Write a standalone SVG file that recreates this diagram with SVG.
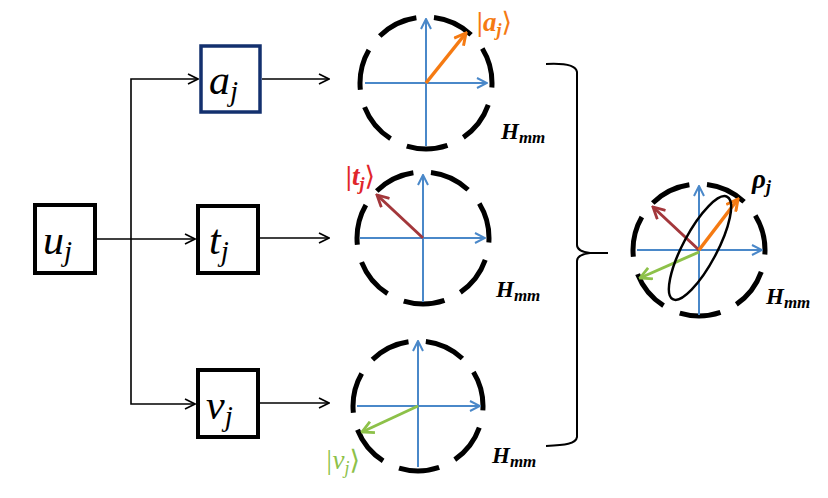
<svg xmlns="http://www.w3.org/2000/svg" width="828" height="498" viewBox="0 0 828 498">
<defs>
<style>
.box{fill:#fff;stroke:#000;stroke-width:4}
.conn{fill:none;stroke:#000;stroke-width:1.6}
.dc{fill:none;stroke:#000;stroke-width:5}
.d66{stroke-dasharray:41.47 17.77;stroke-dashoffset:36.86}
.d65{stroke-dasharray:40.84 17.50;stroke-dashoffset:36.30}
.ax{fill:none;stroke:#4A88C9;stroke-width:2}
.vo{fill:none;stroke:#F57A12;stroke-width:3.5}
.vr{fill:none;stroke:#A3373B;stroke-width:3}
.vg{fill:none;stroke:#8DC149;stroke-width:3}
.m{font-family:"Liberation Serif","DejaVu Serif",serif;font-style:italic}
.lb{font-family:"Liberation Serif","DejaVu Serif",serif;font-style:italic;font-weight:bold}
</style>
<marker id="ab" viewBox="0 0 12 12" refX="11" refY="6" markerWidth="12" markerHeight="12" markerUnits="userSpaceOnUse" orient="auto"><path d="M1,1 L11,6 L1,11" fill="none" stroke="#000" stroke-width="1.6"/></marker>
<marker id="axh" viewBox="0 0 12 12" refX="11" refY="6" markerWidth="12" markerHeight="12" markerUnits="userSpaceOnUse" orient="auto"><path d="M1,1 L11,6 L1,11" fill="none" stroke="#4A88C9" stroke-width="2"/></marker>
<marker id="ho" viewBox="0 0 14 14" refX="12.5" refY="7" markerWidth="14" markerHeight="14" markerUnits="userSpaceOnUse" orient="auto"><path d="M1,1 L12.5,7 L1,13" fill="none" stroke="#F57A12" stroke-width="3"/></marker>
<marker id="hr" viewBox="0 0 14 14" refX="12.5" refY="7" markerWidth="14" markerHeight="14" markerUnits="userSpaceOnUse" orient="auto"><path d="M1,1 L12.5,7 L1,13" fill="none" stroke="#A3373B" stroke-width="2.8"/></marker>
<marker id="hg" viewBox="0 0 14 14" refX="12.5" refY="7" markerWidth="14" markerHeight="14" markerUnits="userSpaceOnUse" orient="auto"><path d="M1,1 L12.5,7 L1,13" fill="none" stroke="#8DC149" stroke-width="2.8"/></marker>
</defs>
<rect width="828" height="498" fill="#fff"/>

<g id="connectors">
<path class="conn" d="M95,239 H195" marker-end="url(#ab)"/>
<path class="conn" d="M131,239 V79 H198" marker-end="url(#ab)"/>
<path class="conn" d="M131,239 V404 H195" marker-end="url(#ab)"/>
<path class="conn" d="M262,79 H329" marker-end="url(#ab)"/>
<path class="conn" d="M260,238 H329" marker-end="url(#ab)"/>
<path class="conn" d="M260,403 H329" marker-end="url(#ab)"/>
<path fill="none" stroke="#000" stroke-width="2" d="M546,64 C565,63 576,65 577,72 L577,245 C577,250 582,252 590,253 L608,253 M590,253 C582,254 577,256 577,261 L577,437 C576,444 565,445 546,446"/>
</g>

<g id="node-u">
<rect class="box" x="35" y="205" width="60" height="68"/>
<text class="m" x="43" y="254" font-size="42">u<tspan font-size="29" dy="7">j</tspan></text>
</g>
<g id="node-a">
<rect class="box" x="201" y="46" width="59" height="66" style="stroke:#13306E;stroke-width:3.5"/>
<text class="m" x="209" y="94" font-size="42">a<tspan font-size="29" dy="7">j</tspan></text>
</g>
<g id="node-t">
<rect class="box" x="198" y="206" width="60" height="67"/>
<text class="m" x="209" y="254" font-size="42">t<tspan font-size="29" dy="7">j</tspan></text>
</g>
<g id="node-v">
<rect class="box" x="198" y="370" width="60" height="67"/>
<text class="m" x="206" y="419" font-size="42">v<tspan font-size="29" dy="7">j</tspan></text>
</g>

<g id="space-a">
<path class="dc d66" d="M492,83 A66,66 0 1 1 360,83 A66,66 0 1 1 492,83"/>
<path class="ax" d="M365,83 H487" marker-end="url(#axh)"/>
<path class="ax" d="M426,146 V19" marker-end="url(#axh)"/>
<path class="vo" d="M426,83 L466,33" marker-end="url(#ho)"/>
<text class="lb" x="477" y="31" font-size="27" fill="#F57A12">|a<tspan font-size="18" dy="5">j</tspan><tspan dy="-5" font-style="normal" font-weight="normal">⟩</tspan></text>
<text class="lb" x="501" y="139" font-size="23">H<tspan font-size="17" dy="4">mm</tspan></text>
</g>

<g id="space-t">
<path class="dc d66" d="M489,238 A66,66 0 1 1 357,238 A66,66 0 1 1 489,238"/>
<path class="ax" d="M360,238 H485" marker-end="url(#axh)"/>
<path class="ax" d="M423,302 V175" marker-end="url(#axh)"/>
<path class="vr" d="M423,238 L377,195" marker-end="url(#hr)"/>
<text class="lb" x="346" y="185" font-size="27" fill="#E0262B">|t<tspan font-size="18" dy="5">j</tspan><tspan dy="-5" font-style="normal" font-weight="normal">⟩</tspan></text>
<text class="lb" x="496" y="297" font-size="23">H<tspan font-size="17" dy="4">mm</tspan></text>
</g>

<g id="space-v">
<path class="dc d65" d="M483,406 A65,65 0 1 1 353,406 A65,65 0 1 1 483,406"/>
<path class="ax" d="M357,406 H480" marker-end="url(#axh)"/>
<path class="ax" d="M418,467 V341" marker-end="url(#axh)"/>
<path class="vg" d="M418,406 L362,432" marker-end="url(#hg)"/>
<text class="m" x="325" y="469" font-size="27" fill="#8DC149">|v<tspan font-size="18" dy="5">j</tspan><tspan dy="-5" font-style="normal">⟩</tspan></text>
<text class="lb" x="492" y="463" font-size="23">H<tspan font-size="17" dy="4">mm</tspan></text>
</g>

<g id="space-rho">
<path class="dc d66" d="M765,250 A66,66 0 1 1 633,250 A66,66 0 1 1 765,250"/>
<path class="ax" d="M637,250 H762" marker-end="url(#axh)"/>
<path class="ax" d="M699,315 V186" marker-end="url(#axh)"/>
<path class="vr" d="M699,250 L653,207" marker-end="url(#hr)"/>
<path class="vo" d="M699,250 L738,199" marker-end="url(#ho)"/>
<path class="vg" d="M699,252 L640,278" marker-end="url(#hg)"/>
<ellipse cx="700" cy="248" rx="17" ry="58" transform="rotate(28 700 248)" fill="none" stroke="#000" stroke-width="2.5"/>
<text class="lb" x="752" y="188" font-size="27">ρ<tspan font-size="18" dy="5">j</tspan></text>
<text class="lb" x="766" y="304" font-size="23">H<tspan font-size="17" dy="4">mm</tspan></text>
</g>
</svg>
